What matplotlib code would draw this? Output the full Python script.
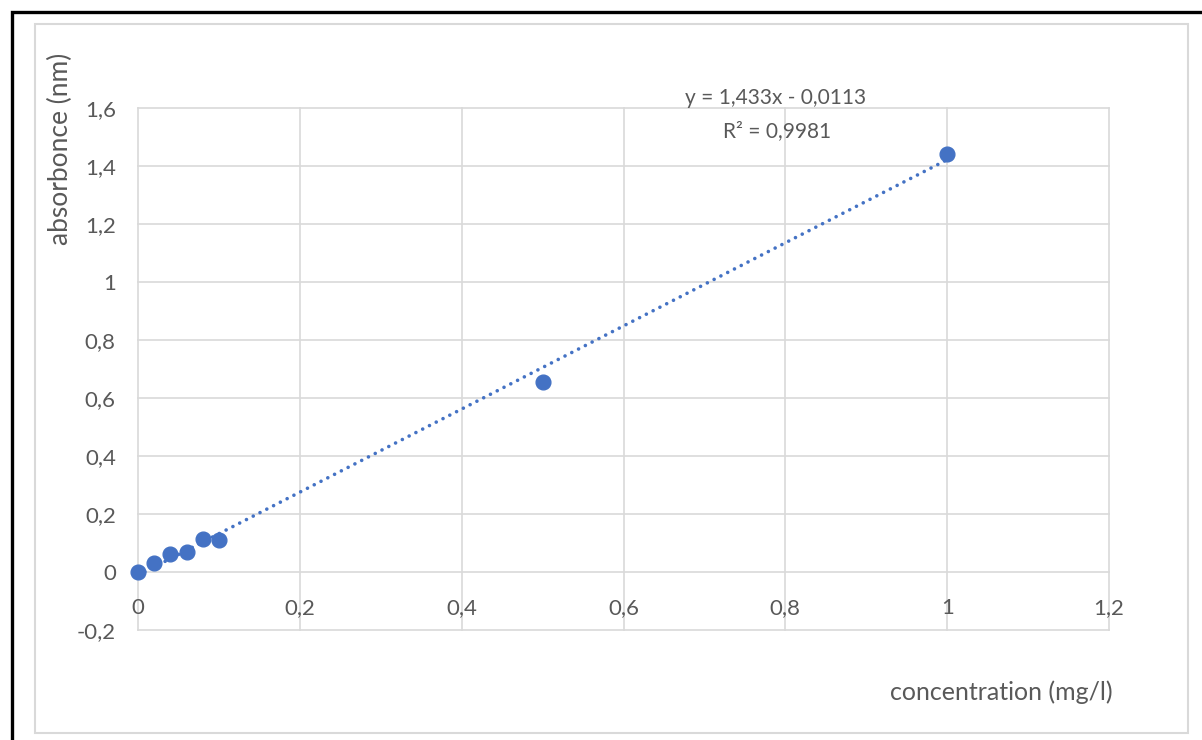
import numpy as np
import matplotlib.pyplot as plt
from matplotlib.patches import Rectangle

# calibration data
concentration = [0, 0.02, 0.04, 0.06, 0.08, 0.1, 0.5, 1.0]
absorbance = [0, 0.031, 0.061, 0.068, 0.113, 0.11, 0.655, 1.443]

# linear fit as reported
slope = 1.433
intercept = -0.0113
r2 = 0.9981

x_ticks = [0, 0.2, 0.4, 0.6, 0.8, 1.0, 1.2]
y_ticks = [-0.2, 0, 0.2, 0.4, 0.6, 0.8, 1.0, 1.2, 1.4, 1.6]

blue = '#4472C4'
txt = '#595959'
grid = '#d9d9d9'

plt.rcParams['font.family'] = ['Lato', 'DejaVu Sans']

W, H = 1202, 740
fig = plt.figure(figsize=(W / 100, H / 100), dpi=100)

# outer black frame (cut off on right and bottom)
fig.patches.append(Rectangle((12 / W, -0.1), 1.2, 1 - 12 / H + 0.1, transform=fig.transFigure,
                             fill=False, edgecolor='black', linewidth=2.4, zorder=0))
# chart area border
fig.patches.append(Rectangle((35 / W, 1 - 733 / H), (1188 - 35) / W, (733 - 24) / H,
                             transform=fig.transFigure, fill=False, edgecolor=grid,
                             linewidth=1.5, zorder=0))

ax = fig.add_axes([138 / W, 1 - 630 / H, (1109 - 138) / W, (630 - 108) / H])
ax.set_xlim(0, 1.2)
ax.set_ylim(-0.2, 1.6)
ax.set_xticks(x_ticks)
ax.set_yticks(y_ticks)


def comma(v):
    s = ('%.1f' % v).rstrip('0').rstrip('.')
    return s.replace('.', ',') if s != '-0' else '0'


ax.set_xticklabels([comma(v) for v in x_ticks])
ax.set_yticklabels([comma(v) for v in y_ticks])
for s in ax.spines.values():
    s.set_visible(False)
ax.spines['bottom'].set_position(('data', 0))
ax.tick_params(length=0, labelsize=16, labelcolor=txt)
ax.tick_params(axis='x', pad=19)
ax.tick_params(axis='y', pad=16)
ax.grid(True, color=grid, linewidth=1.2)
for gl in ax.get_xgridlines() + ax.get_ygridlines():
    gl.set_clip_on(False)
ax.set_axisbelow(True)

# trendline
xt = np.array([0, 1.0])
ax.plot(xt, slope * xt + intercept, color=blue, linewidth=2.6,
        linestyle=(0, (0.01, 2.1)), dash_capstyle='round', zorder=2)
ax.plot(concentration, absorbance, 'o', color=blue, markersize=10.6, zorder=3, clip_on=False)

fig.text(776 / W, 1 - 98 / H, 'y = 1,433x - 0,0113', ha='center', va='center',
         fontsize=15, color=txt)
fig.text(777 / W, 1 - 131 / H, 'R² = %s' % str(r2).replace('.', ','), ha='center',
         va='center', fontsize=15, color=txt)

fig.text(60 / W, 1 - 53 / H, 'absorbonce (nm)', rotation=90, ha='center', va='top',
         fontsize=19, color=txt)
fig.text(1113 / W, 1 - 692 / H, 'concentration (mg/l)', ha='right', va='center',
         fontsize=18, color=txt)

fig.savefig('out.png', dpi=100)
